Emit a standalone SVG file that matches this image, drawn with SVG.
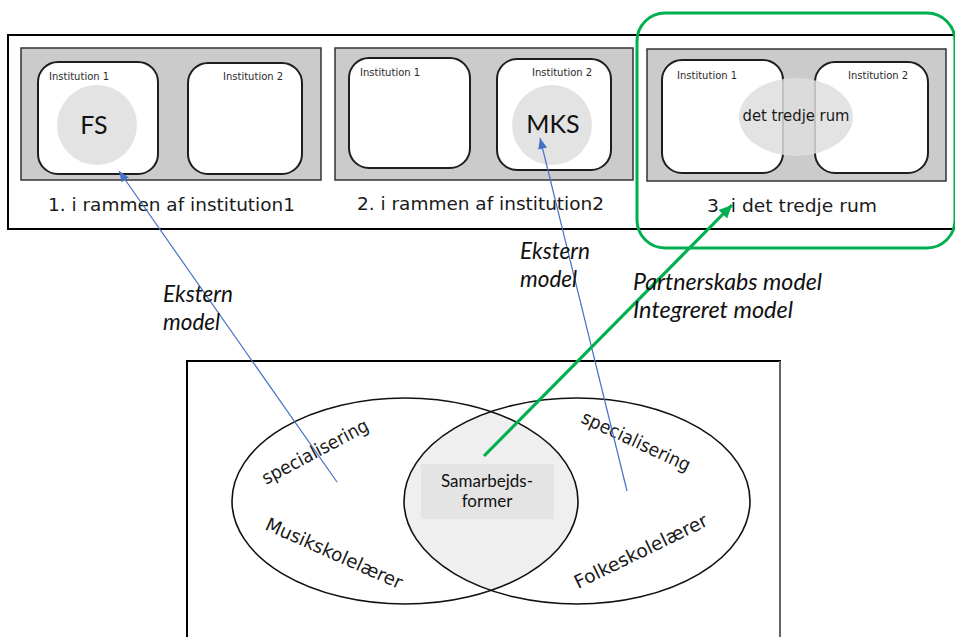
<svg xmlns="http://www.w3.org/2000/svg" width="955" height="637" viewBox="0 0 955 637">
<defs>
<style>
.frame{fill:#fff;stroke:#000;stroke-width:2}
.panel{fill:#cbcbcb;stroke:#333;stroke-width:1.5}
.inst{fill:#fff;stroke:#1e1e1e;stroke-width:2}
.small{font-family:"DejaVu Sans",Verdana,sans-serif;font-size:10px;fill:#2a2a2a}
.cap{font-family:"DejaVu Sans",Verdana,sans-serif;font-size:18px;fill:#1a1a1a}
.mid{font-family:"DejaVu Sans",Verdana,sans-serif;font-size:15px;fill:#1a1a1a;text-anchor:middle}
.big{font-family:Lato,"Open Sans",sans-serif;font-size:25px;fill:#111;text-anchor:middle}
.lbl{font-family:Lato,"Open Sans",sans-serif;font-style:italic;font-size:22.5px;fill:#111}
.venn{font-family:"DejaVu Sans",Verdana,sans-serif;font-size:18.5px;fill:#1a1a1a}
.ell{fill:none;stroke:#111;stroke-width:1.6}
.blue{stroke:#4472c4;stroke-width:1.2;fill:none}
.green{stroke:#00b050;stroke-width:3.2;fill:none}
</style>
<marker id="ab" markerUnits="userSpaceOnUse" markerWidth="12" markerHeight="12" viewBox="0 0 12 12" refX="11" refY="6" orient="auto">
<path d="M0,1.5 L11,6 L0,10.5 z" fill="#4472c4"/>
</marker>
<marker id="ag" markerUnits="userSpaceOnUse" markerWidth="14" markerHeight="14" viewBox="0 0 14 14" refX="13" refY="7" orient="auto">
<path d="M0,1 L13,7 L0,13 z" fill="#00b050"/>
</marker>
</defs>
<rect width="955" height="637" fill="#fff"/>

<g id="top-frame">
<rect class="frame" x="8" y="35" width="960" height="194"/>
</g>

<g id="panel-1">
<rect class="panel" x="21" y="48" width="300" height="132"/>
<rect class="inst" x="38" y="62" width="120" height="112" rx="20"/>
<rect class="inst" x="188" y="63" width="114" height="111" rx="20"/>
<circle cx="97" cy="125" r="40" fill="#e3e3e3"/>
<text class="small" x="49" y="80">Institution 1</text>
<text class="small" x="223" y="80">Institution 2</text>
<text class="big" x="94" y="134">FS</text>
<text class="cap" x="48" y="211" textLength="247" lengthAdjust="spacingAndGlyphs">1. i rammen af institution1</text>
</g>

<g id="panel-2">
<rect class="panel" x="335" y="48" width="298" height="132"/>
<rect class="inst" x="349" y="58" width="121" height="110" rx="20"/>
<rect class="inst" x="497" y="59" width="114" height="111" rx="20"/>
<circle cx="552" cy="125" r="40" fill="#e3e3e3"/>
<text class="small" x="360" y="76">Institution 1</text>
<text class="small" x="532" y="76">Institution 2</text>
<text class="big" x="553" y="133">MKS</text>
<text class="cap" x="357" y="210" textLength="247" lengthAdjust="spacingAndGlyphs">2. i rammen af institution2</text>
</g>

<g id="panel-3">
<rect class="panel" x="647" y="49" width="299" height="132"/>
<rect class="inst" x="662" y="60" width="121" height="113" rx="20"/>
<rect class="inst" x="815" y="62" width="113" height="111" rx="20"/>
<ellipse cx="796" cy="117" rx="57" ry="39" fill="#dedede" fill-opacity="0.85"/>
<text class="small" x="677" y="79">Institution 1</text>
<text class="small" x="848" y="79">Institution 2</text>
<text class="mid" x="796" y="121" textLength="107" lengthAdjust="spacingAndGlyphs">det tredje rum</text>
<text class="cap" x="707" y="212" textLength="170" lengthAdjust="spacingAndGlyphs">3. i det tredje rum</text>
</g>

<g id="highlight">
<rect x="637" y="13" width="318" height="235" rx="28" fill="none" stroke="#00b050" stroke-width="3"/>
</g>

<g id="bottom-frame">
<rect x="187" y="361" width="593" height="290" fill="#fff" stroke="#000" stroke-width="2"/>
<line x1="780" y1="361" x2="780" y2="637" stroke="#666" stroke-width="2"/>
</g>

<g id="venn">
<path d="M491,411.6 A173,103 0 0 1 491,590.4 A173,103 0 0 1 491,411.6 z" fill="#efefef"/>
<ellipse class="ell" cx="405" cy="501" rx="173" ry="103"/>
<ellipse class="ell" cx="577" cy="501" rx="173" ry="103"/>
<text class="venn" transform="translate(266,485) rotate(-28)" textLength="118" lengthAdjust="spacingAndGlyphs">specialisering</text>
<text class="venn" transform="translate(264,529) rotate(24)" textLength="148" lengthAdjust="spacingAndGlyphs">Musikskolelærer</text>
<text class="venn" transform="translate(580,422) rotate(25)" textLength="118" lengthAdjust="spacingAndGlyphs">specialisering</text>
<text class="venn" transform="translate(578,589) rotate(-26)" textLength="146" lengthAdjust="spacingAndGlyphs">Folkeskolelærer</text>
</g>

<g id="samarbejdsformer">
<rect x="421" y="464" width="133" height="55" fill="#e4e4e4"/>
<text font-family="Lato,'Open Sans',sans-serif" font-size="17" fill="#111" text-anchor="middle"><tspan x="487" y="487">Samarbejds-</tspan><tspan x="487" y="507">former</tspan></text>
</g>

<g id="connectors">
<line class="blue" x1="337" y1="482" x2="119" y2="171" marker-end="url(#ab)"/>
<line class="blue" x1="627" y1="491" x2="540" y2="138" marker-end="url(#ab)"/>
<line class="green" x1="484" y1="456" x2="732" y2="205" marker-end="url(#ag)"/>
<text class="lbl" x="163" y="302" textLength="70" lengthAdjust="spacingAndGlyphs">Ekstern</text>
<text class="lbl" x="163" y="330">model</text>
<text class="lbl" x="520" y="259" textLength="70" lengthAdjust="spacingAndGlyphs">Ekstern</text>
<text class="lbl" x="520" y="287">model</text>
<text class="lbl" x="633" y="290" textLength="189" lengthAdjust="spacingAndGlyphs">Partnerskabs model</text>
<text class="lbl" x="633" y="318" textLength="160" lengthAdjust="spacingAndGlyphs">Integreret model</text>
</g>
</svg>
